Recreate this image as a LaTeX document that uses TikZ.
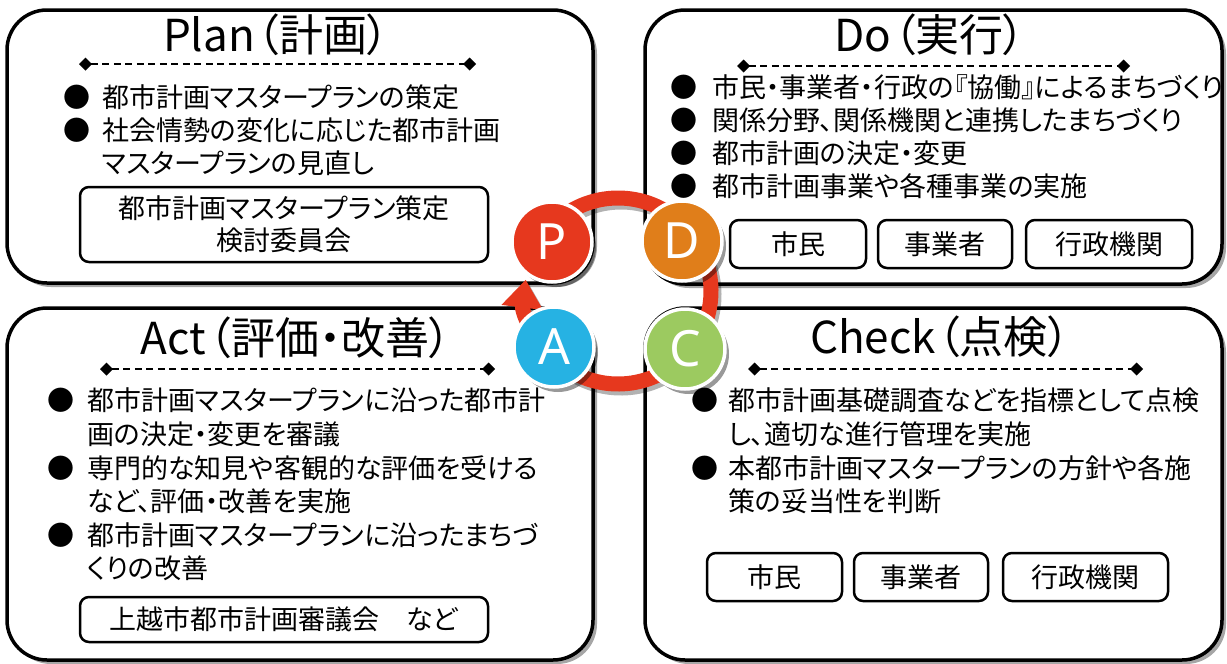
\documentclass[tikz,border=0pt]{standalone}
\usepackage{fontspec}
\setmainfont{Noto Sans CJK JP}[RawFeature=+palt]
\newfontfamily\latfont{Noto Sans}
\usetikzlibrary{arrows.meta,shadows}
\definecolor{cP}{RGB}{230,56,30}
\definecolor{cD}{RGB}{224,126,26}
\definecolor{cC}{RGB}{156,202,96}
\definecolor{cA}{RGB}{38,178,227}
\tikzset{
  bigbox/.style={draw=black, line width=3.5pt, rounded corners=40pt, fill=white, inner sep=0pt,
    drop shadow={shadow xshift=4pt, shadow yshift=-4pt, opacity=0.35, fill=black}},
  ttl/.style={anchor=base, inner sep=0pt, font=\fontsize{44}{48}\selectfont},
  bodytxt/.style={anchor=base west, inner sep=0pt, font=\fontsize{27}{32}\selectfont},
  bul/.style={anchor=base, inner sep=0pt, font=\fontsize{27}{32}\selectfont},
  sepline/.style={line width=1.5pt, dash pattern=on 7pt off 4.5pt,
    {Turned Square[length=13pt,width=13pt]}-{Turned Square[length=13pt,width=13pt]}},
  subbox/.style={draw=black, line width=2.5pt, rounded corners=9pt, fill=white, inner sep=0pt,
    font=\fontsize{27}{32}\selectfont, align=center},
  pdca/.style={circle, draw=white, line width=3.5pt, minimum size=80pt, inner sep=0pt, text=white,
    font=\latfont\fontsize{50}{54}\selectfont,
    drop shadow={shadow xshift=4pt, shadow yshift=-5pt, opacity=0.4, fill=black}},
  ring/.style={draw=cP, line width=15pt},
}
\begin{document}
\begin{tikzpicture}[x=1pt,y=-1pt]
\useasboundingbox (0,0) rectangle (1227,664);
% big boxes
\node[bigbox, minimum width=586pt, minimum height=273pt] (plan) at (300,146.5) {};
\node[bigbox, minimum width=577pt, minimum height=274pt] (do) at (933.5,147) {};
\node[bigbox, minimum width=586pt, minimum height=352pt] (act) at (300,484) {};
\node[bigbox, minimum width=577pt, minimum height=352pt] (check) at (933.5,484) {};

% titles
\node[ttl] (tplan) at (276,51) {Plan\kern2pt（計画）};
\node[ttl] (tdo) at (930,51) {Do\kern2pt（実行）};
\node[ttl] (tact) at (296,354) {Act\kern3pt（評価・改善）};
\node[ttl] (tcheck) at (940,353) {Check\kern2pt（点検）};

% separators
\coordinate (sp1) at (79,64); \coordinate (sp2) at (476,64);
\coordinate (sd1) at (737,66); \coordinate (sd2) at (1130,66);
\coordinate (sa1) at (100,369); \coordinate (sa2) at (495,369);
\coordinate (sc1) at (748,369); \coordinate (sc2) at (1143,369);
\draw[sepline] (sp1) -- (sp2);
\draw[sepline] (sd1) -- (sd2);
\draw[sepline] (sa1) -- (sa2);
\draw[sepline] (sc1) -- (sc2);

% Plan text
\node[bul] (pb1) at (77,107) {●};
\node[bodytxt] (pt1) at (102,107) {都市計画マスタープランの策定};
\node[bul] (pb2) at (77,140) {●};
\node[bodytxt] (pt2) at (102,140) {社会情勢の変化に応じた都市計画};
\node[bodytxt] (pt3) at (102,173) {マスタープランの見直し};
\node[subbox, minimum width=408pt, minimum height=75pt] (pbox) at (284,224.5) {都市計画マスタープラン策定\\検討委員会};

% Do text
\node[bul] (db1) at (684,97) {●};
\node[bodytxt] (dt1) at (712,97) {市民・事業者・行政の『協働』によるまちづくり};
\node[bul] (db2) at (684,130) {●};
\node[bodytxt] (dt2) at (712,130) {関係分野、関係機関と連携したまちづくり};
\node[bul] (db3) at (684,163) {●};
\node[bodytxt] (dt3) at (712,163) {都市計画の決定・変更};
\node[bul] (db4) at (684,196) {●};
\node[bodytxt] (dt4) at (712,196) {都市計画事業や各種事業の実施};
\node[subbox, minimum width=136pt, minimum height=48pt] (d1) at (798,244) {市民};
\node[subbox, minimum width=134pt, minimum height=48pt] (d2) at (945,244) {事業者};
\node[subbox, minimum width=166pt, minimum height=48pt] (d3) at (1109,244) {行政機関};

% Check text
\node[bul] (cb1) at (705,410) {●};
\node[bodytxt] (ct1) at (728,410) {都市計画基礎調査などを指標として点検};
\node[bodytxt] (ct2) at (728,444) {し、適切な進行管理を実施};
\node[bul] (cb2) at (705,478) {●};
\node[bodytxt] (ct3) at (728,478) {本都市計画マスタープランの方針や各施};
\node[bodytxt] (ct4) at (728,511) {策の妥当性を判断};
\node[subbox, minimum width=135pt, minimum height=48pt] (c1) at (774.5,577) {市民};
\node[subbox, minimum width=134pt, minimum height=48pt] (c2) at (921,577) {事業者};
\node[subbox, minimum width=165pt, minimum height=48pt] (c3) at (1085.5,577) {行政機関};

% Act text
\node[bul] (ab1) at (61,410) {●};
\node[bodytxt] (at1) at (87,410) {都市計画マスタープランに沿った都市計};
\node[bodytxt] (at2) at (87,444) {画の決定・変更を審議};
\node[bul] (ab2) at (61,478) {●};
\node[bodytxt] (at3) at (87,478) {専門的な知見や客観的な評価を受ける};
\node[bodytxt] (at4) at (87,511) {など、評価・改善を実施};
\node[bul] (ab3) at (61,545) {●};
\node[bodytxt] (at5) at (87,545) {都市計画マスタープランに沿ったまちづ};
\node[bodytxt] (at6) at (87,578) {くりの改善};
\node[subbox, minimum width=408pt, minimum height=45pt] (abox) at (284,619.5) {上越市都市計画審議会　など};

% cycle ring
\coordinate (rc) at (618,291);
\draw[draw=black, opacity=0.3, line width=15pt, -{Triangle[length=28pt,width=40pt]}]
  ([shift={(216:93)}]rc) ++(3,4) arc[start angle=216, end angle=547, radius=93];
\draw[ring, -{Triangle[length=28pt,width=40pt]}]
  ([shift={(216:93)}]rc) arc[start angle=216, end angle=547, radius=93];

% PDCA circles
\node[pdca, fill=cP] (P) at (552,242) {P};
\node[pdca, fill=cD] (D) at (682,241) {D};
\node[pdca, fill=cA] (A) at (554,347) {A};
\node[pdca, fill=cC] (C) at (685,349) {C};
\end{tikzpicture}
\end{document}
